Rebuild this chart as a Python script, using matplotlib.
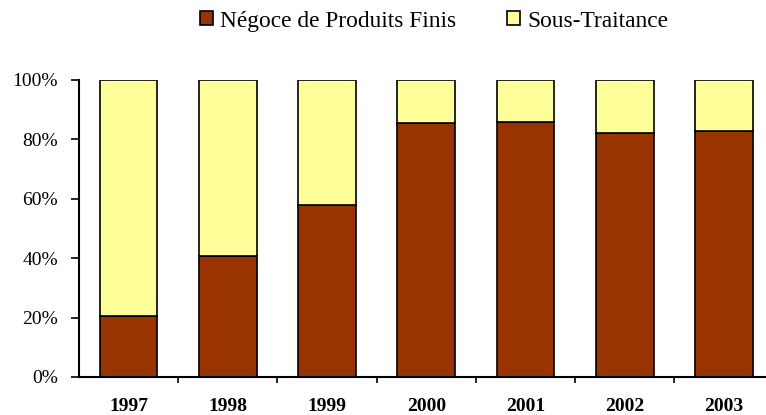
import numpy as np
import matplotlib.pyplot as plt

plt.rcParams["font.family"] = "Liberation Serif"

years = ["1997", "1998", "1999", "2000", "2001", "2002", "2003"]
negoce = [20.6, 40.8, 57.7, 85.3, 85.9, 82.0, 82.6]
sous_traitance = [100 - v for v in negoce]

fig = plt.figure(figsize=(7.66, 4.15), dpi=100)
ax = fig.add_axes([0.103, 0.0916, 0.907, 0.7164])

x = np.arange(len(years))
ax.bar(x, negoce, width=0.58, color="#993300", edgecolor="black",
       linewidth=1.2, label="Négoce de Produits Finis")
ax.bar(x, sous_traitance, width=0.58, bottom=negoce, color="#FFFF99",
       edgecolor="black", linewidth=1.2, label="Sous-Traitance")

ax.set_xlim(-0.5, len(years) - 0.5)
ax.set_ylim(0, 100)
ax.set_yticks([0, 20, 40, 60, 80, 100])
ax.set_yticklabels([f"{v}%" for v in [0, 20, 40, 60, 80, 100]], fontsize=14)

# category labels centred, tick marks between categories
ax.set_xticks(x)
ax.set_xticklabels(years, fontsize=14, fontweight="bold")
ax.tick_params(axis="x", which="major", length=0, pad=15)
ax.set_xticks(np.arange(0.5, len(years) - 0.5, 1), minor=True)
ax.tick_params(axis="x", which="minor", length=4.5, width=1.2, direction="out")
ax.tick_params(axis="y", length=6, width=1.2, direction="out", pad=9)

for side in ["top", "right"]:
    ax.spines[side].set_visible(False)
for side in ["left", "bottom"]:
    ax.spines[side].set_linewidth(1.5)

fig.legend(loc="upper center", bbox_to_anchor=(0.5666, 1.025), ncol=2,
           frameon=False, fontsize=16.8, handlelength=0.55, handleheight=0.55,
           handletextpad=0.3, columnspacing=2.2)

fig.savefig("out.png", dpi=100)
